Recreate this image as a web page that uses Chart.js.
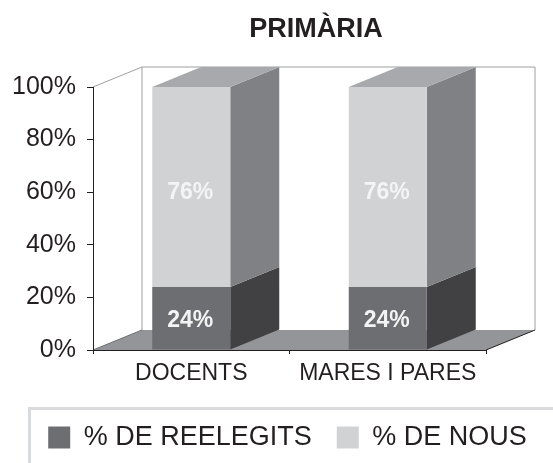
<!DOCTYPE html>
<html>
<head>
<meta charset="utf-8">
<script src="https://cdn.jsdelivr.net/npm/chart.js@4"></script>
<style>
  html, body { margin: 0; padding: 0; background: #fff; }
  #wrap { width: 553px; height: 463px; }
</style>
</head>
<body>
<div id="wrap"><canvas id="chart"></canvas></div>
<script>
// Data
const TITLE = "PRIMÀRIA";
const CATEGORIES = ["DOCENTS", "MARES I PARES"];
const REELEGITS = [24, 24];
const NOUS = [76, 76];
const Y_TICKS = [0, 20, 40, 60, 80, 100];

// Colours
const FONT = "'Liberation Sans', Arial, Helvetica, sans-serif";
const INK = "#231f20";
const DEPTH_X = 49;
const DEPTH_Y = 20;
const SIDE_COLORS = ["#414042", "#808184"];
const TOP_COLOR = "#a7a9ac";
const FLOOR_COLOR = "#939598";
const WALL_LINE = "#9d9fa2";

// Back wall, side wall and floor, drawn before the axes
const room3d = {
  id: "room3d",
  beforeDraw(chart) {
    const { ctx, chartArea: a } = chart;
    ctx.save();
    // back wall
    ctx.fillStyle = "#fff";
    ctx.fillRect(a.left + DEPTH_X, a.top - DEPTH_Y, a.right - a.left, a.bottom - a.top);
    ctx.strokeStyle = WALL_LINE;
    ctx.lineWidth = 1;
    ctx.beginPath();
    ctx.moveTo(a.left, a.top);
    ctx.lineTo(a.left + DEPTH_X, a.top - DEPTH_Y);
    ctx.lineTo(a.right + DEPTH_X, a.top - DEPTH_Y);
    ctx.lineTo(a.right + DEPTH_X, a.bottom - DEPTH_Y);
    ctx.moveTo(a.left + DEPTH_X, a.top - DEPTH_Y);
    ctx.lineTo(a.left + DEPTH_X, a.bottom - DEPTH_Y);
    ctx.stroke();
    // floor
    ctx.fillStyle = FLOOR_COLOR;
    ctx.beginPath();
    ctx.moveTo(a.left, a.bottom);
    ctx.lineTo(a.right, a.bottom);
    ctx.lineTo(a.right + DEPTH_X, a.bottom - DEPTH_Y);
    ctx.lineTo(a.left + DEPTH_X, a.bottom - DEPTH_Y);
    ctx.closePath();
    ctx.fill();
    ctx.strokeStyle = INK;
    ctx.beginPath();
    ctx.moveTo(a.right, a.bottom);
    ctx.lineTo(a.right + DEPTH_X, a.bottom - DEPTH_Y);
    ctx.stroke();
    ctx.strokeStyle = "#6d6e71";
    ctx.beginPath();
    ctx.moveTo(a.left, a.bottom);
    ctx.lineTo(a.left + DEPTH_X, a.bottom - DEPTH_Y);
    ctx.stroke();
    ctx.restore();
  },
  // sides and tops of the bars
  beforeDatasetsDraw(chart) {
    const { ctx } = chart;
    const last = chart.data.datasets.length - 1;
    ctx.save();
    chart.data.datasets.forEach((ds, di) => {
      chart.getDatasetMeta(di).data.forEach((bar) => {
        const p = bar.getProps(["x", "y", "base", "width"], true);
        const left = p.x - p.width / 2;
        const right = p.x + p.width / 2;
        ctx.fillStyle = SIDE_COLORS[di];
        ctx.beginPath();
        ctx.moveTo(right, p.y);
        ctx.lineTo(right + DEPTH_X, p.y - DEPTH_Y);
        ctx.lineTo(right + DEPTH_X, p.base - DEPTH_Y);
        ctx.lineTo(right, p.base);
        ctx.closePath();
        ctx.fill();
        if (di === last) {
          ctx.fillStyle = TOP_COLOR;
          ctx.beginPath();
          ctx.moveTo(left, p.y);
          ctx.lineTo(left + DEPTH_X, p.y - DEPTH_Y);
          ctx.lineTo(right + DEPTH_X, p.y - DEPTH_Y);
          ctx.lineTo(right, p.y);
          ctx.closePath();
          ctx.fill();
        }
      });
    });
    ctx.restore();
  },
  // value labels, title and legend frame
  afterDraw(chart) {
    const { ctx, chartArea: a } = chart;
    ctx.save();
    ctx.fillStyle = "#f4f4f4";
    ctx.font = "bold 23px " + FONT;
    ctx.textAlign = "center";
    ctx.textBaseline = "middle";
    chart.data.datasets.forEach((ds, di) => {
      chart.getDatasetMeta(di).data.forEach((bar, i) => {
        const p = bar.getProps(["x", "y", "base"], true);
        ctx.fillText(ds.data[i] + "%", p.x - 1, (p.y + p.base) / 2 + (di === 0 ? 2 : 6));
      });
    });
    ctx.fillStyle = INK;
    ctx.font = "bold 27px " + FONT;
    ctx.textBaseline = "alphabetic";
    ctx.fillText(TITLE, (a.left + a.right + DEPTH_X) / 2 + 2, 37);
    ctx.strokeStyle = "#d9dadb";
    ctx.lineWidth = 3;
    ctx.strokeRect(29.5, 408.5, 600, 100);
    ctx.restore();
  },
};

const ctx = document.getElementById("chart").getContext("2d");
new Chart(ctx, {
  type: "bar",
  data: {
    labels: CATEGORIES,
    datasets: [
      {
        label: "% DE REELEGITS",
        data: REELEGITS,
        backgroundColor: "#6d6e71",
        barPercentage: 0.397,
        categoryPercentage: 1,
      },
      {
        label: "% DE NOUS",
        data: NOUS,
        backgroundColor: "#d1d2d4",
        barPercentage: 0.397,
        categoryPercentage: 1,
      },
    ],
  },
  options: {
    responsive: true,
    maintainAspectRatio: false,
    animation: false,
    layout: { padding: { left: 8, right: -14, top: 87, bottom: 2 } },
    plugins: {
      title: { display: false },
      tooltip: { enabled: false },
      legend: {
        position: "bottom",
        labels: {
          boxWidth: 22,
          boxHeight: 22,
          padding: 25,
          color: INK,
          font: { family: FONT, size: 27 },
        },
      },
    },
    scales: {
      x: {
        stacked: true,
        grid: { drawOnChartArea: false, tickLength: 4, color: INK, offset: true },
        border: { color: INK },
        ticks: { color: INK, font: { family: FONT, size: 23 }, padding: 6, maxRotation: 0 },
        afterFit: (scale) => { scale.height = 49; },
      },
      y: {
        stacked: true,
        min: 0,
        max: 100,
        afterBuildTicks: (scale) => { scale.ticks = Y_TICKS.map((v) => ({ value: v })); },
        grid: { drawOnChartArea: false, tickLength: 6, color: INK },
        border: { color: INK },
        ticks: {
          color: INK,
          font: { family: FONT, size: 25 },
          padding: 11,
          callback: (v) => v + "%",
        },
        afterFit: (scale) => { scale.width = 85; },
      },
      // empty axis that keeps room on the right for the depth of the box
      depth: {
        position: "right",
        grid: { display: false },
        border: { display: false },
        ticks: { display: false },
        afterFit: (scale) => { scale.width = 81; },
      },
    },
  },
  plugins: [room3d],
});
</script>
</body>
</html>
